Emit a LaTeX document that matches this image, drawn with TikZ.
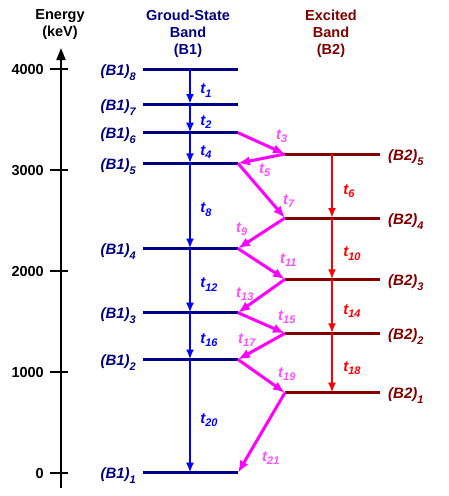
\documentclass[tikz,border=0pt]{standalone}
\usepackage{fontspec}
\setmainfont{Liberation Sans}
\usetikzlibrary{arrows.meta, positioning}

\definecolor{gsnavy}{RGB}{0,0,128}
\definecolor{gsblue}{RGB}{0,0,255}
\definecolor{exmaroon}{RGB}{128,0,0}
\definecolor{exred}{RGB}{255,0,0}
\definecolor{xmag}{RGB}{255,0,255}
\definecolor{xmaglab}{RGB}{255,80,255}

\newcommand{\lvsub}[1]{\raisebox{-5pt}{\fontsize{11}{11}\selectfont #1}}
\newcommand{\tsub}[1]{\raisebox{-3.5pt}{\fontsize{11}{11}\selectfont #1}}

\begin{document}
\begin{tikzpicture}[x=1pt, y=-1pt]
    \tikzstyle{head} = [font=\fontsize{14.5}{17}\selectfont\bfseries, align=center, anchor=north, inner sep=0]
    \tikzstyle{lvlab} = [font=\fontsize{15}{15}\selectfont\bfseries\itshape, inner sep=0]
    \tikzstyle{tlab} = [font=\fontsize{15}{15}\selectfont\bfseries\itshape, inner sep=0]
    \tikzstyle{ticklab} = [font=\fontsize{14.5}{15}\selectfont\bfseries, inner sep=0, anchor=base east]
    \tikzstyle{level} = [draw, line width=3pt]
    \tikzstyle{barrow} = [draw, gsblue, line width=2.6pt, -{Latex[length=10pt,width=8pt]}]
    \tikzstyle{rarrow} = [draw, exred, line width=2.6pt, -{Latex[length=10pt,width=8pt]}]
    \tikzstyle{marrow} = [draw, xmag, line width=3pt, -{Latex[length=12pt,width=9.5pt]}]

    \useasboundingbox (0,0) rectangle (449,496);

    % headings
    \node [head] (energy) at (60,9.5) {Energy\\(keV)};
    \node [head, gsnavy] (gsband) at (188,9.5) {Groud-State\\Band\\(B1)};
    \node [head, exmaroon] (exband) at (331,9.5) {Excited\\Band\\(B2)};

    % energy axis
    \coordinate (axbot) at (61,488);
    \coordinate (axtop) at (61,48);
    \draw [line width=1.8pt, -{Triangle[length=12pt,width=9pt]}] (axbot) -- (axtop);
    \foreach \e/\y in {4000/69, 3000/170, 2000/271, 1000/372, 0/473} {
        \draw [line width=1.8pt] (50,\y) -- (68,\y);
        \node [ticklab] (tick\e) at (44,\y+5.5) {\e};
    }

    % ground-state band levels
    \foreach \n/\y in {8/69, 7/104, 6/132.7, 5/163.3, 4/248.5, 3/312.7, 2/359.5, 1/472.7} {
        \coordinate (B1L\n) at (143,\y);
        \coordinate (B1M\n) at (190,\y);
        \coordinate (B1R\n) at (238,\y);
        \path [level, gsnavy] (B1L\n) -- (B1R\n);
        \node [lvlab, gsnavy, anchor=base east] (B1lab\n) at (136,\y+6) {(B1)\lvsub{\n}};
    }

    % excited band levels
    \foreach \n/\y in {5/154, 4/218, 3/279.3, 2/333.3, 1/392.7} {
        \coordinate (B2L\n) at (285,\y);
        \coordinate (B2M\n) at (332,\y);
        \coordinate (B2R\n) at (380,\y);
        \path [level, exmaroon] (B2L\n) -- (B2R\n);
        \node [lvlab, exmaroon, anchor=base west] (B2lab\n) at (388,\y+6) {(B2)\lvsub{\n}};
    }

    % in-band transitions
    \foreach \a/\b/\t in {8/7/1, 7/6/2, 6/5/4, 5/4/8, 4/3/12, 3/2/16, 2/1/20}
        \path [barrow] (B1M\a) -- (B1M\b) node [tlab, gsblue, midway, anchor=west, xshift=9pt, yshift=-4pt] {t\tsub{\t}};
    \foreach \a/\b/\t in {5/4/6, 4/3/10, 3/2/14, 2/1/18}
        \path [rarrow] (B2M\a) -- (B2M\b) node [tlab, exred, midway, anchor=west, xshift=10pt, yshift=-5pt] {t\tsub{\t}};

    % inter-band transitions
    \foreach \a/\b/\t/\lx/\ly in {B1R6/B2L5/3/276/139, B2L5/B1R5/5/259/173, B1R5/B2L4/7/283/204,
        B2L4/B1R4/9/236/232, B1R4/B2L3/11/280/263, B2L3/B1R3/13/236/297, B1R3/B2L2/15/278/320,
        B2L2/B1R2/17/238/343, B1R2/B2L1/19/278/377, B2L1/B1R1/21/262/461} {
        \path [marrow] (\a) -- (\b);
        \node [tlab, xmaglab, anchor=base west] (m\t) at (\lx,\ly) {t\tsub{\t}};
    }
\end{tikzpicture}
\end{document}
